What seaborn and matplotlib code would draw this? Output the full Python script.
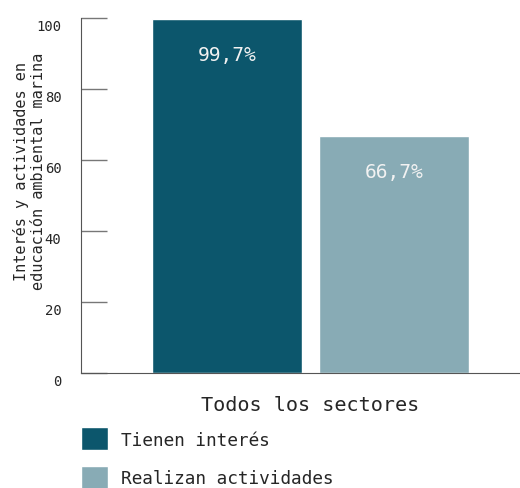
import pandas as pd
import matplotlib
matplotlib.use("Agg")
import matplotlib.pyplot as plt
import matplotlib.transforms as mtransforms
import seaborn as sns

# datos
sector = "Todos los sectores"
series = ["Tienen interés", "Realizan actividades"]
valores = [99.7, 66.7]
colores = ["#0c566c", "#88abb5"]
yticks = [0, 20, 40, 60, 80, 100]

df = pd.DataFrame({"sector": [sector] * len(series), "serie": series, "valor": valores})

sns.set_style("white")
plt.rcParams['font.family'] = ['DejaVu Sans Mono', 'DejaVu Sans']

fig = plt.figure(figsize=(5.2, 4.89), dpi=100)
ax = fig.add_axes([81 / 520, 1 - 374 / 489, 438 / 520, 355 / 489])

sns.barplot(data=df, x="sector", y="valor", hue="serie", palette=colores,
            width=0.8, gap=0.1, saturation=1, ax=ax)
ax.get_legend().remove()

ax.set_xlim(-0.55, 0.50)
ax.set_ylim(0, 100)
ax.set_yticks(yticks)
ax.set_yticklabels([str(t) for t in yticks], fontsize=10)

# etiquetas dentro de las barras
for cont in ax.containers:
    ax.bar_label(cont, labels=[f"{v:.1f}%".replace(".", ",") for v in cont.datavalues],
                 padding=-32, color="#f2f2f2", fontsize=14)

sns.despine(ax=ax)
ax.spines["left"].set_color("#555555")
ax.spines["bottom"].set_color("#555555")
ax.tick_params(axis="y", left=True, direction="in", length=19, width=1,
               color="#777777", pad=14)
ax.tick_params(axis="x", bottom=False, length=0, pad=16, labelsize=14.5)
ax.set_xlabel("")

# desplazar etiquetas del eje y hacia abajo
offset = mtransforms.ScaledTranslation(0, -5 / 72, fig.dpi_scale_trans)
for lab in ax.get_yticklabels():
    lab.set_transform(lab.get_transform() + offset)

ax.set_ylabel("Interés y actividades en\neducación ambiental marina", fontsize=11,
              linespacing=1.15)
ax.yaxis.set_label_coords(-0.08, 0.57)

handles, labels = ax.get_legend_handles_labels()
fig.legend(handles, labels, loc="upper left", bbox_to_anchor=(81 / 520, 1 - 428 / 489),
           frameon=False, fontsize=12.8, handlelength=1.52, handleheight=1.65,
           handletextpad=0.73, labelspacing=0.85, borderpad=0, borderaxespad=0)

plt.savefig("out.png", dpi=100)
plt.close()
